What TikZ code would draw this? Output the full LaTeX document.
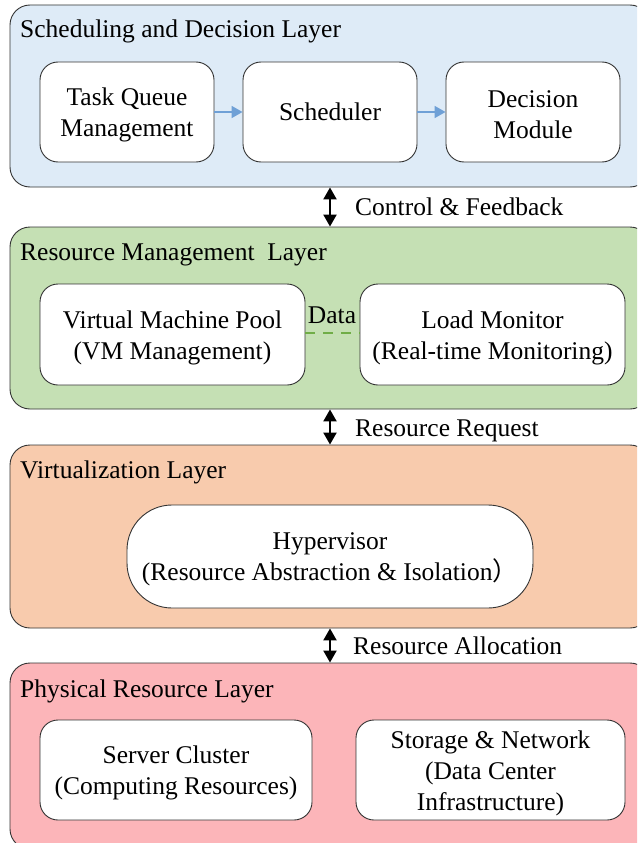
\documentclass[tikz,border=0pt]{standalone}
\usepackage{fontspec}
\setmainfont{Liberation Serif}
\newfontfamily\cjk{Noto Sans CJK SC}
\usetikzlibrary{arrows.meta}
\definecolor{lblue}{HTML}{DEEBF7}
\definecolor{lgreen}{HTML}{C5E0B4}
\definecolor{lorange}{HTML}{F8CBAD}
\definecolor{lpink}{HTML}{FCB5B9}
\definecolor{arrblue}{HTML}{6FA0D6}
\definecolor{dgreen}{HTML}{70AD47}
\definecolor{edge}{HTML}{333333}
\begin{document}
\begin{tikzpicture}[x=1pt,y=-1pt,
  every node/.style={font=\fontsize{25.5}{31}\selectfont},
  layer/.style={draw=edge, line width=0.9pt, rounded corners=20pt, minimum width=640pt, inner sep=0pt},
  inbox/.style={draw=edge, line width=0.9pt, fill=white, rounded corners=18pt, inner sep=0pt},
  boxtext/.style={align=center, inner sep=0pt, yshift=-3pt},
  ltitle/.style={anchor=west, inner sep=0pt},
  biarrow/.style={line width=2.2pt, {Triangle[length=12pt,width=13pt]}-{Triangle[length=12pt,width=13pt]}},
  flow/.style={draw=arrblue, line width=1.8pt, -{Triangle[length=11pt,width=12pt]}},
  alabel/.style={anchor=west, inner sep=0pt}
]
\clip (0,0) rectangle (637,843);
\fill[white] (0,0) rectangle (637,843);

% layers
\node[layer, fill=lblue, minimum height=182pt] (L1) at (330,96) {};
\node[layer, fill=lgreen, minimum height=182pt] (L2) at (330,318) {};
\node[layer, fill=lorange, minimum height=183pt] (L3) at (330,536.5) {};
\node[layer, fill=lpink, minimum height=186pt] (L4) at (330,756) {};

% titles
\node[ltitle] (T1) at (20,31.5) {Scheduling and Decision Layer};
\node[ltitle] (T2) at (20,254.5) {Resource Management\ \ Layer};
\node[ltitle] (T3) at (20,472) {Virtualization Layer};
\node[ltitle] (T4) at (20,691) {Physical Resource Layer};

% layer 1 boxes
\node[inbox, minimum width=174pt, minimum height=100pt,
  label={[boxtext]center:Task Queue\\Management}] (TQ) at (127,112) {};
\node[inbox, minimum width=174pt, minimum height=100pt,
  label={[boxtext, yshift=3pt]center:Scheduler}] (SC) at (330,112) {};
\node[inbox, minimum width=174pt, minimum height=100pt,
  label={[boxtext]center:Decision\\Module}] (DM) at (533,112) {};
\draw[flow] (TQ) -- (SC);
\draw[flow] (SC) -- (DM);

% layer 2 boxes
\node[inbox, minimum width=265pt, minimum height=101pt,
  label={[boxtext]center:Virtual Machine Pool\\(VM Management)}] (VM) at (172.5,334.5) {};
\node[inbox, minimum width=265pt, minimum height=101pt,
  label={[boxtext]center:Load Monitor\\(Real-time Monitoring)}] (LM) at (492.5,334.5) {};
\draw[dgreen, line width=1.6pt, dash pattern=on 10pt off 8pt] (VM.east |- 0,333) -- (LM.west |- 0,333);
\node[inner sep=0pt] (DT) at (332,315) {Data};

% layer 3 box
\node[inbox, rounded corners=45pt, minimum width=406pt, minimum height=103pt,
  label={[boxtext]center:Hypervisor\\(Resource Abstraction \& Isolation{\cjk ）}}] (HV) at (330,556.5) {};

% layer 4 boxes
\node[inbox, minimum width=272pt, minimum height=100pt,
  label={[boxtext]center:Server Cluster\\(Computing Resources)}] (SV) at (176,770) {};
\node[inbox, minimum width=269pt, minimum height=100pt,
  label={[boxtext]center:Storage \& Network\\(Data Center\\Infrastructure)}] (SN) at (490.5,770) {};

% inter-layer arrows
\draw[biarrow] (L1.south) -- (L2.north);
\draw[biarrow] (L2.south) -- (L3.north);
\draw[biarrow] (L3.south) -- (L4.north);
\node[alabel] (A1) at (355,207) {Control \& Feedback};
\node[alabel] (A2) at (355,431) {Resource Request};
\node[alabel] (A3) at (353,646) {Resource Allocation};
\end{tikzpicture}
\end{document}
